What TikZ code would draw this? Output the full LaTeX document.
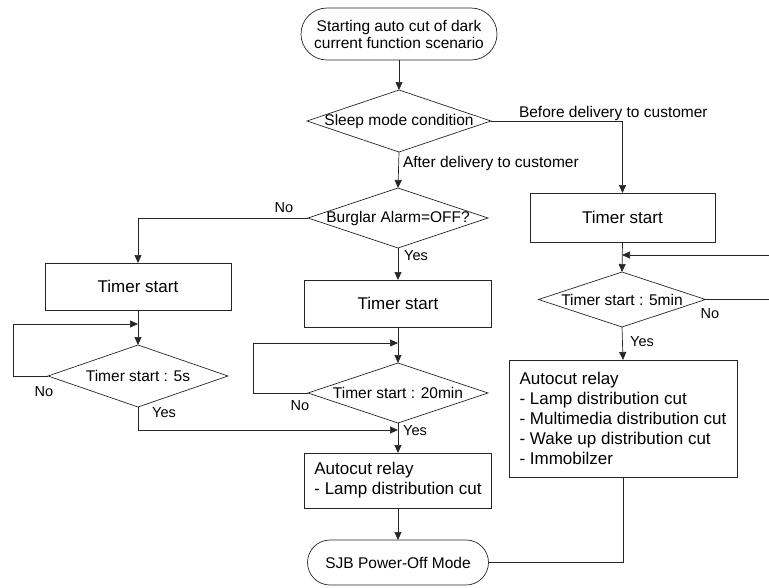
\documentclass[tikz,border=0pt]{standalone}
\usepackage{fontspec}
\setmainfont{Liberation Sans}
\usetikzlibrary{arrows.meta,shapes.geometric,shapes.misc}
\begin{document}
\begin{tikzpicture}[x=1pt,y=-1pt,
  line width=0.7pt,
  every node/.style={font=\fontsize{15.5}{17}\selectfont, inner sep=0pt, outer sep=0pt},
  boxnode/.style={draw=black!85, rectangle, font=\fontsize{17}{20}\selectfont},
  term/.style={draw=black!85, rounded rectangle, align=center},
  dia/.style={draw=black!85, diamond},
  lbl/.style={font=\fontsize{14.5}{17}\selectfont},
  arr/.style={-{Triangle[length=8pt,width=7pt]}},
  conn/.style={draw=black!85}
]
\useasboundingbox (0,0) rectangle (769,587);

% nodes
\node[term, minimum width=196pt, minimum height=52pt] (start) at (399,34) {Starting auto cut of dark\\current function scenario};
\node[dia, minimum width=184pt, minimum height=62pt] (sleep) at (399,121) {\makebox[0pt]{Sleep mode condition}};
\node[dia, minimum width=180pt, minimum height=60pt] (burg) at (398,218) {\makebox[0pt]{Burglar Alarm=OFF?}};
\node[boxnode, minimum width=187pt, minimum height=47pt] (mtimer) at (398,303.5) {Timer start};
\node[boxnode, minimum width=186pt, minimum height=47pt] (ltimer) at (138,286.5) {Timer start};
\node[dia, minimum width=180pt, minimum height=62pt] (ldia) at (138,376) {\makebox[0pt]{Timer start : 5s}};
\node[dia, minimum width=180pt, minimum height=60pt] (mdia) at (398,393) {\makebox[0pt]{Timer start : 20min}};
\node[boxnode, align=left, minimum width=187pt, minimum height=55pt] (mauto) at (398,480.5) {Autocut relay\\- Lamp distribution cut};
\node[term, minimum width=181pt, minimum height=45pt] (sjb) at (398,562.5) {SJB Power-Off Mode};
\node[boxnode, minimum width=185pt, minimum height=49pt] (rtimer) at (622.5,217.5) {Timer start};
\node[dia, minimum width=167pt, minimum height=55pt] (rdia) at (622,299.5) {\makebox[0pt]{Timer start : 5min}};
\node[boxnode, align=left, minimum width=228pt, minimum height=117pt] (rauto) at (623,418.5) {Autocut relay\\- Lamp distribution cut\\- Multimedia distribution cut\\- Wake up distribution cut\\- Immobilzer};

% helper coordinates
\coordinate (lj) at (138,324);
\coordinate (lcorner) at (13,324);
\coordinate (mj) at (398,343);
\coordinate (mcorner) at (253,343);
\coordinate (yj) at (398,430);
\coordinate (rj) at (622,255);
\coordinate (redgeA) at (769,255);
\coordinate (redgeB) at (769,299.5);

% connectors
\draw[conn, arr] (start.south) -- (sleep.north);
\draw[conn, arr] (sleep.east) -| (rtimer.north);
\draw[conn, arr] (sleep.south) -- (burg.north);
\draw[conn, arr] (burg.west) -| (ltimer.north);
\draw[conn, arr] (burg.south) -- (mtimer.north);
\draw[conn, arr] (ltimer.south) -- (ldia.north);
\draw[conn, arr] (ldia.west) -| (lcorner) -- (lj);
\draw[conn, arr] (ldia.south) |- (yj);
\draw[conn, arr] (mtimer.south) -- (mdia.north);
\draw[conn, arr] (mdia.west) -| (mcorner) -- (mj);
\draw[conn, arr] (mdia.south) -- (mauto.north);
\draw[conn, arr] (mauto.south) -- (sjb.north);
\draw[conn, arr] (rtimer.south) -- (rdia.north);
\draw[conn, arr] (redgeA) -- (rj);
\draw[conn] (rdia.east) -- (redgeB);
\draw[conn, arr] (rdia.south) -- (rauto.north);
\draw[conn] (rauto.south) |- (sjb.east);

% labels
\node[anchor=base west] (lbefore) at (519,117) {Before delivery to customer};
\node[anchor=base west] (lafter) at (403,167) {After delivery to customer};
\node[lbl] (lno1) at (284,208) {No};
\node[lbl] (lyes1) at (416,256) {Yes};
\node[lbl] (lno2) at (44,392) {No};
\node[lbl] (lyes2) at (164,413) {Yes};
\node[lbl] (lno3) at (300,406) {No};
\node[lbl] (lyes3) at (415,431) {Yes};
\node[lbl] (lno4) at (710,314) {No};
\node[lbl] (lyes4) at (642,342) {Yes};
\end{tikzpicture}
\end{document}
